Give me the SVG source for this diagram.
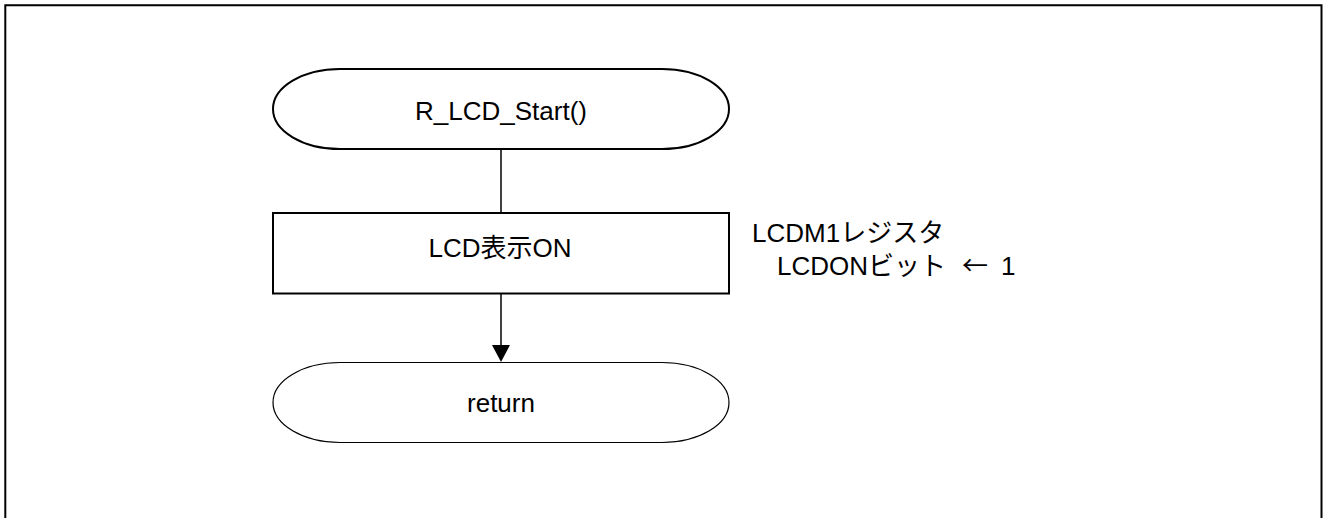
<svg xmlns="http://www.w3.org/2000/svg" width="1323" height="518" viewBox="0 0 1323 518">
<style>
text{font-family:"Liberation Sans","Noto Sans CJK JP",Arial,sans-serif;font-size:26px;fill:#000}
.c{text-anchor:middle}
.cjk{font-family:"Noto Sans CJK JP",sans-serif}
.shape{fill:#fff;stroke:#000}
.conn{stroke:#000;stroke-width:1.5;fill:none}
</style>
<rect width="1323" height="518" fill="#fff"/>
<path d="M5.3,518 V5.3 H1321.5 V518" fill="none" stroke="#000" stroke-width="2"/>
<g id="connectors">
<line class="conn" x1="501" y1="149" x2="501" y2="213"/>
<line class="conn" x1="501" y1="293.5" x2="501" y2="345"/>
<path d="M492,345 L510,345 L501,362 Z" fill="#000"/>
</g>
<g id="start">
<path class="shape" stroke-width="2" d="M340,69 H662 A67,40 0 0 1 662,149 H340 A67,40 0 0 1 340,69 Z"/>
<text class="c" x="501" y="120">R_LCD_Start()</text>
</g>
<g id="lcd_on">
<rect class="shape" stroke-width="2" x="273" y="213" width="456" height="80.5"/>
<text class="c" x="500" y="257">LCD表示ON</text>
</g>
<g id="note">
<text x="752" y="242">LCDM1レジスタ</text>
<text x="777" y="275">LCDONビット <tspan class="cjk" x="962">←</tspan> <tspan x="1001">1</tspan></text>
</g>
<g id="return">
<path class="shape" stroke-width="1.2" d="M340,362.5 H662 A67,40 0 0 1 662,442.5 H340 A67,40 0 0 1 340,362.5 Z"/>
<text class="c" x="501" y="412">return</text>
</g>
</svg>
